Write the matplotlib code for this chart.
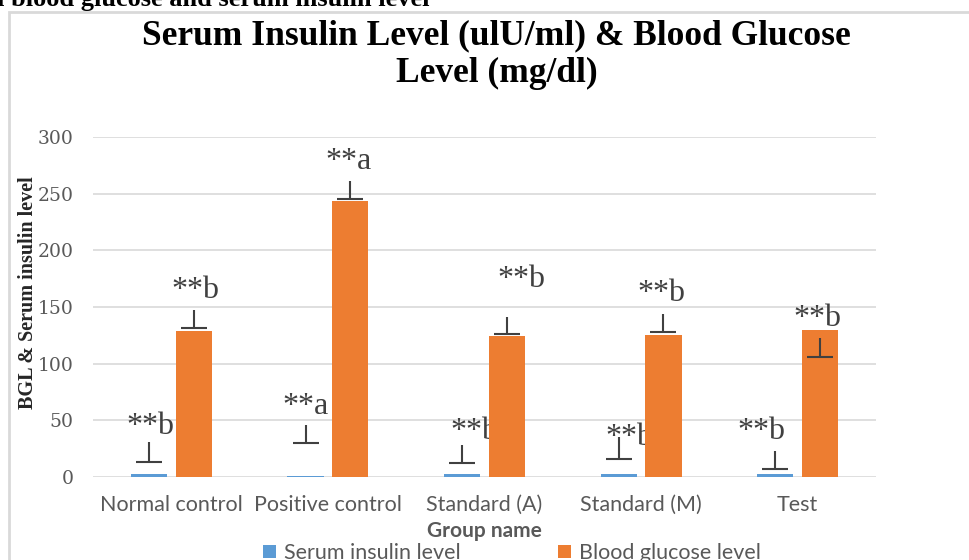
import matplotlib.pyplot as plt
import numpy as np
from matplotlib.patches import Rectangle

# data
groups = ["Normal control", "Positive control", "Standard (A)", "Standard (M)", "Test"]
insulin = [2.7, 0.9, 2.7, 2.6, 2.6]
glucose = [129, 243.5, 124.5, 125.5, 129.5]

# floating error bar ends (cap value, top value)
insulin_err_low = [13, 30, 12, 16, 7]
insulin_err_high = [31, 46, 28, 35, 23]
glucose_err_low = [131.5, 245, 126, 128, 106]
glucose_err_high = [147, 261, 141, 144, 122.5]

insulin_sig = ["**b", "**a", "**b", "**b", "**b"]
glucose_sig = ["**b", "**a", "**b", "**b", "**b"]
insulin_sig_y = [45, 62, 40, 35, 40]
glucose_sig_y = [165, 278, 174, 162, 140]

yticks = [0, 50, 100, 150, 200, 250, 300]

BLUE = "#5B9BD5"
ORANGE = "#ED7D31"
GRAY = "#595959"
DARK = "#404040"

fig = plt.figure(figsize=(9.69, 5.6), dpi=100)
ax = fig.add_axes([93 / 969, 1 - 477 / 560, 783 / 969, 340 / 560])

x = np.arange(len(groups))
w = 0.23
off = 0.143

ax.bar(x - off, insulin, w, color=BLUE, zorder=3, label="Serum insulin level")
ax.bar(x + off, glucose, w, color=ORANGE, zorder=3, label="Blood glucose level")

cap = 0.083
ax.vlines(x - off, insulin_err_low, insulin_err_high, color=DARK, lw=1.5, zorder=4)
ax.hlines(insulin_err_low, x - off - cap, x - off + cap, color=DARK, lw=1.5, zorder=4)
ax.vlines(x + off, glucose_err_low, glucose_err_high, color=DARK, lw=1.5, zorder=4)
ax.hlines(glucose_err_low, x + off - cap, x + off + cap, color=DARK, lw=1.5, zorder=4)

# small horizontal nudges of the significance letters
ins_nudge = [0.01, 0.0, 0.08, 0.07, -0.09]
glu_nudge = [0.01, -0.01, 0.09, -0.01, -0.02]
for i in range(len(groups)):
    ax.text(x[i] - off + ins_nudge[i], insulin_sig_y[i], insulin_sig[i], ha="center", va="center",
            fontsize=23, family="Liberation Serif", color=DARK, zorder=2)
    ax.text(x[i] + off + glu_nudge[i], glucose_sig_y[i], glucose_sig[i], ha="center", va="center",
            fontsize=23, family="Liberation Serif", color=DARK, zorder=2)

ax.set_xlim(-0.5, len(groups) - 0.5)
ax.set_ylim(0, 300)
ax.set_yticks(yticks)
ax.set_xticks(x)
ax.set_xticklabels(groups, fontsize=15.5, family="Lato", color=GRAY)
for lab in ax.get_yticklabels():
    lab.set_family("DejaVu Serif")
    lab.set_fontsize(13.5)
    lab.set_color(GRAY)
ax.tick_params(axis="y", length=0, pad=14)
ax.tick_params(axis="x", length=0, pad=13)
ax.grid(axis="y", color="#D9D9D9", lw=1.2, zorder=0)
ax.set_axisbelow(True)
for s in ax.spines.values():
    s.set_visible(False)

ax.set_xlabel("Group name", fontsize=15, family="Lato", fontweight="bold", color=GRAY, labelpad=4)

fig.text(28 / 969, 1 - 293 / 560, "BGL & Serum insulin level", rotation=90, ha="center", va="center",
         fontsize=14.5, family="Liberation Serif", fontweight="bold", color="#262626")

fig.text(0.5 * (137 + 856) / 969, 1 - 36 / 560, "Serum Insulin Level (ulU/ml) & Blood Glucose",
         ha="center", va="center", fontsize=25.5, family="Liberation Serif", fontweight="bold")
fig.text(0.5 * (137 + 856) / 969, 1 - 73 / 560, "Level (mg/dl)",
         ha="center", va="center", fontsize=25.5, family="Liberation Serif", fontweight="bold")

# clipped caption above the chart frame
fig.text(-0.003, 1 - 6 / 560, "l blood glucose and serum insulin level", ha="left", va="baseline",
         fontsize=19, family="Liberation Serif", fontweight="bold")

fig.patches.append(Rectangle((9 / 969, -0.1), 1.1, 1 - 12 / 560 + 0.1, transform=fig.transFigure,
                             fill=False, edgecolor="#D9D9D9", lw=2))

leg = fig.legend(loc="center", bbox_to_anchor=(512 / 969, 1 - 553 / 560), ncol=2, frameon=False,
                 prop={"family": "Lato", "size": 15.5}, handlelength=0.6, handleheight=0.6,
                 columnspacing=4.5, handletextpad=0.4)
for t in leg.get_texts():
    t.set_color(GRAY)

fig.savefig("out.png", dpi=100)
